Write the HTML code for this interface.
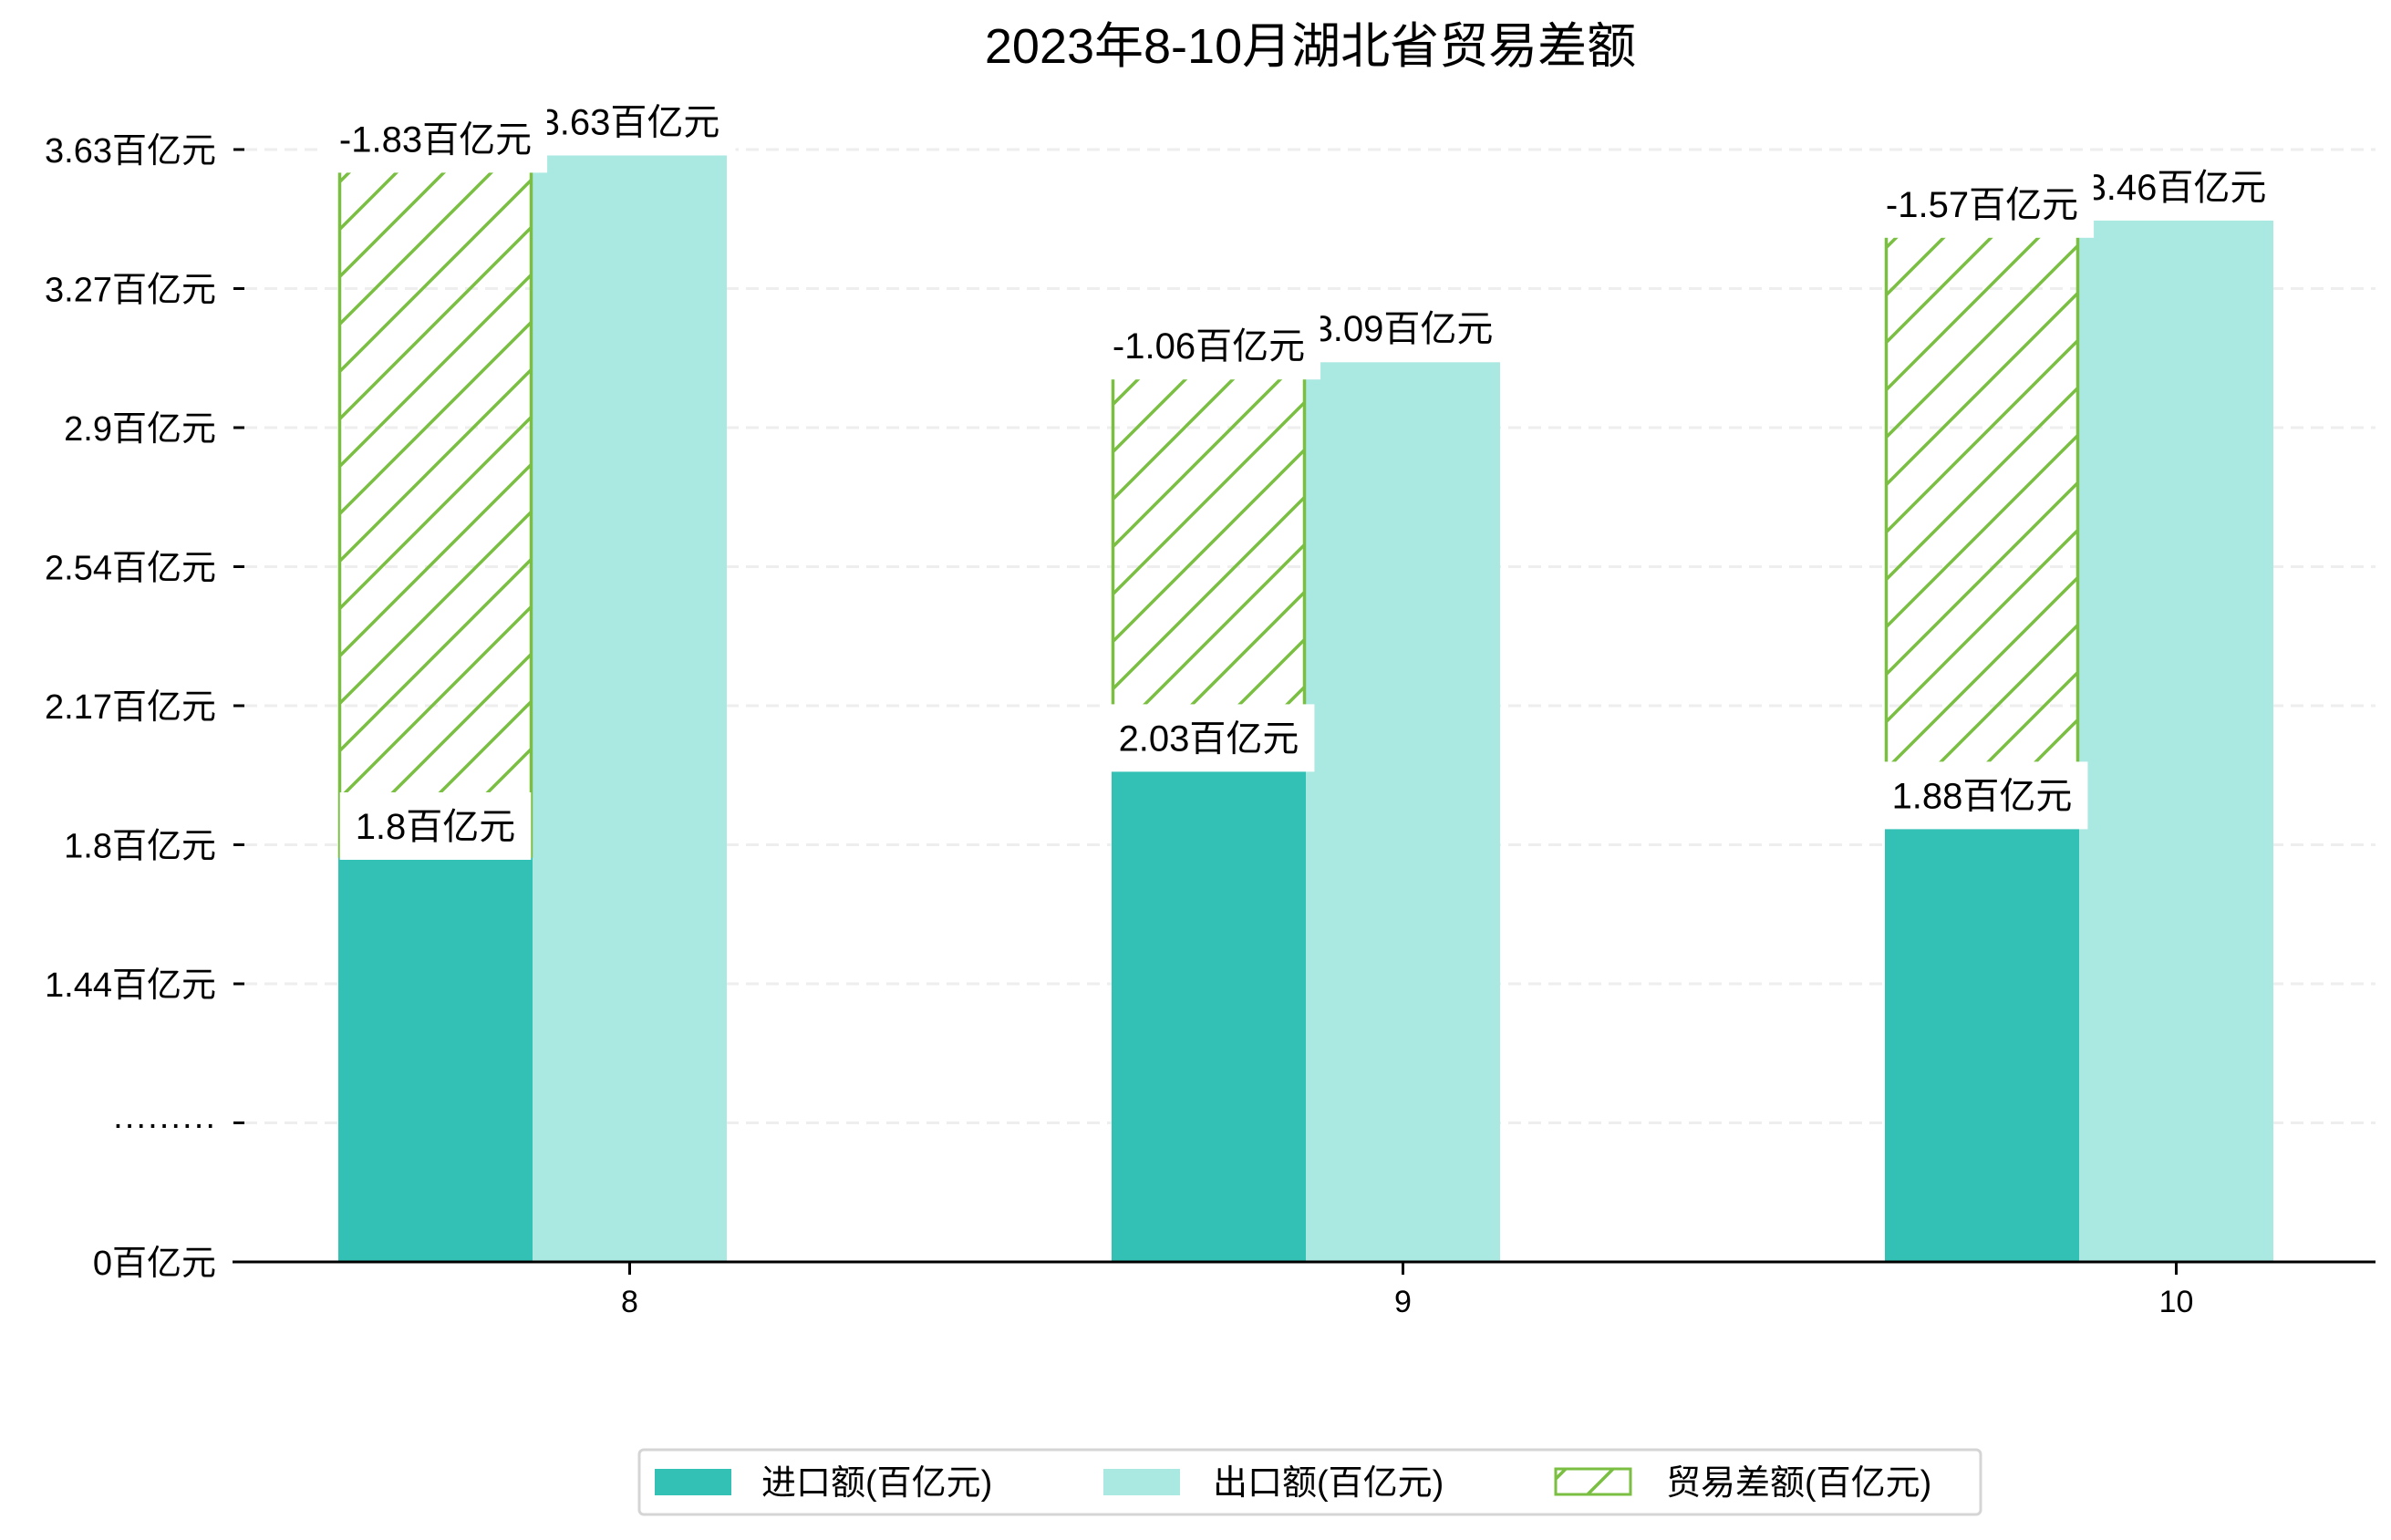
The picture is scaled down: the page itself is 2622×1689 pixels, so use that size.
<!DOCTYPE html>
<html><head><meta charset="utf-8"><style>
html,body{margin:0;padding:0;background:#fff;}
svg{display:block;font-family:"Liberation Sans","Noto Sans CJK SC",sans-serif;}
</style></head><body>
<svg id="chart" width="2622" height="1689" viewBox="0 0 2622 1689" xmlns="http://www.w3.org/2000/svg">
<defs>
<pattern id="hatch" patternUnits="userSpaceOnUse" width="52" height="52">
<line x1="-5" y1="57" x2="57" y2="-5" stroke="#7abf42" stroke-width="3.5"/>
<line x1="-31" y1="31" x2="31" y2="-31" stroke="#7abf42" stroke-width="3.5"/>
<line x1="21" y1="83" x2="83" y2="21" stroke="#7abf42" stroke-width="3.5"/>
</pattern>
</defs>
<text x="1437" y="69" font-size="54" text-anchor="middle" fill="#000">2023年8-10月湖北省贸易差额</text>
<g id="grid"></g>
<g id="bars"></g>
<g id="labels"></g>
<g id="axes"></g>
<g>
<rect x="701" y="1590" width="1471" height="71" rx="5" fill="#fff" stroke="#d5d5d5" stroke-width="3"/>
<rect x="718" y="1611" width="84" height="29" fill="#32c1b4"/>
<text x="835" y="1639" font-size="38">进口额(百亿元)</text>
<rect x="1210" y="1611" width="84" height="29" fill="#aae8e2"/>
<text x="1330" y="1639" font-size="38">出口额(百亿元)</text>
<rect x="1706" y="1611" width="82" height="28" fill="url(#hatch)" stroke="#7abf42" stroke-width="3"/>
<text x="1827" y="1639" font-size="38">贸易差额(百亿元)</text>
</g>
</svg>
<script>
const months = ["8", "9", "10"];
const importVals = [1.8, 2.03, 1.88];
const exportVals = [3.63, 3.09, 3.46];
const balanceVals = [-1.83, -1.06, -1.57];
const yTickLabels = ["0百亿元", "·········", "1.44百亿元", "1.8百亿元", "2.17百亿元", "2.54百亿元", "2.9百亿元", "3.27百亿元", "3.63百亿元"];

const NS = "http://www.w3.org/2000/svg";
const baseY = 1384;
function yVal(v){ return Math.min(baseY, 1695 - 420 * v); }
function yTick(i){ return baseY - 152.5 * i; }
function xGroup(i){ return 584 + 848 * i; }
const barW = 213;

function mk(tag, attrs, parent){
  const el = document.createElementNS(NS, tag);
  for (const k in attrs) el.setAttribute(k, attrs[k]);
  parent.appendChild(el);
  return el;
}
const grid = document.getElementById('grid');
const bars = document.getElementById('bars');
const labels = document.getElementById('labels');
const axes = document.getElementById('axes');

yTickLabels.forEach((t, i) => {
  const y = yTick(i);
  if (i > 0) {
    const g = mk('line', {x1:268, x2:2605, y1:y, y2:y, stroke:'#eeeeee', 'stroke-width':3, 'stroke-dasharray':'14,8'}, grid);
    
    
  }
  const tk = mk('line', {x1:256, x2:268, y1:y, y2:y, stroke:'#000', 'stroke-width':3}, axes);
  
  
  const tl = mk('text', {x:237, y:y+14, 'font-size':38, 'text-anchor':'end'}, axes);
  tl.textContent = t;
  
  
});

const spine = mk('line', {x1:255, x2:2605, y1:baseY, y2:baseY, stroke:'#000', 'stroke-width':3}, axes);



function addLabel(cx, cy, txt, name){
  const t = mk('text', {x:cx, y:cy+14, 'font-size':40, 'text-anchor':'middle'}, labels);
  t.textContent = txt;
  const w = t.getComputedTextLength ? t.getComputedTextLength() : txt.length * 30;
  const r = document.createElementNS(NS, 'rect');
  r.setAttribute('x', cx - w/2 - 17);
  r.setAttribute('y', cy - 37);
  r.setAttribute('width', w + 34);
  r.setAttribute('height', 74);
  r.setAttribute('fill', '#fff');
  
  
  labels.insertBefore(r, t);
  
  
}

months.forEach((m, i) => {
  const xc = xGroup(i);
  const yi = yVal(importVals[i]);
  const ye = yVal(exportVals[i]);
  const yb = yVal(importVals[i] + balanceVals[i] * -1);
  const b1 = mk('rect', {x:xc - barW, y:yi, width:barW, height:baseY - yi, fill:'#32c1b4'}, bars);
  
  
  const b2 = mk('rect', {x:xc, y:ye, width:barW, height:baseY - ye, fill:'#aae8e2'}, bars);
  
  
  const b3 = mk('rect', {x:xc - barW + 1.5, y:yb, width:barW - 3, height:yi - yb, fill:'url(#hatch)', stroke:'#7abf42', 'stroke-width':3.5}, bars);
  
  

  const tk = mk('line', {x1:xc + barW/2, x2:xc + barW/2, y1:baseY, y2:baseY + 14, stroke:'#000', 'stroke-width':3}, axes);
  
  
  const xl = mk('text', {x:xc + barW/2, y:1439, 'font-size':34, 'text-anchor':'middle'}, axes);
  xl.textContent = m;
  
  
});

months.forEach((m, i) => {
  const xc = xGroup(i);
  addLabel(xc + barW/2, yVal(exportVals[i]) - 37, exportVals[i] + '百亿元', 'export-value-label');
});
months.forEach((m, i) => {
  const xc = xGroup(i);
  addLabel(xc - barW/2, yVal(importVals[i]) - 33, importVals[i] + '百亿元', 'import-value-label');
  addLabel(xc - barW/2, yVal(exportVals[i]) - 18, balanceVals[i] + '百亿元', 'balance-value-label');
});
</script>
</body></html>
